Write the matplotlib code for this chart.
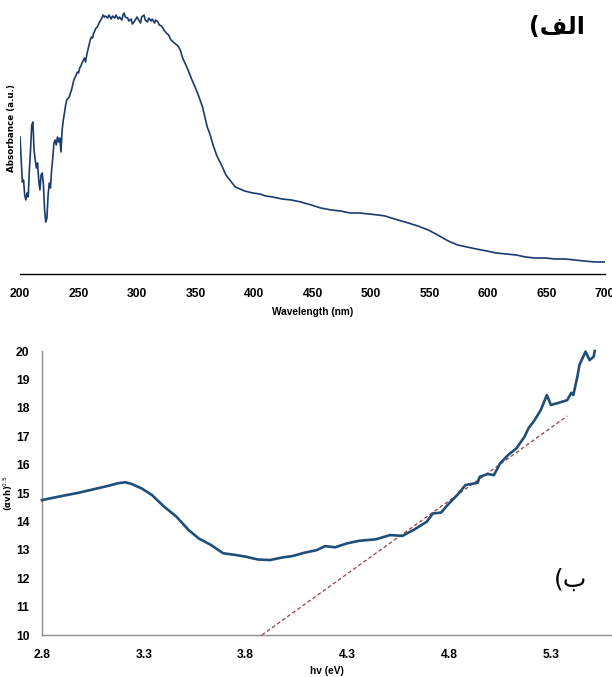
import matplotlib
matplotlib.use("Agg")
import matplotlib.pyplot as plt

# absorbance spectrum (top panel)
wavelength = [200, 201, 202, 203, 204, 205, 206, 207, 208, 209,
              210, 211, 212, 213, 214, 215, 216, 217, 218, 219,
              220, 221, 222, 223, 224, 225, 226, 227, 228, 229,
              230, 231, 232, 233, 234, 235, 236, 237, 238, 239,
              240, 242, 244, 246, 248, 249, 250, 251, 252, 253,
              255, 256, 257, 259, 260, 261, 262, 263, 265, 266,
              268, 270, 271, 272, 273, 275, 276, 278, 279, 281,
              282, 284, 285, 287, 288, 289, 290, 292, 293, 295,
              296, 298, 300, 301, 303, 304, 306, 307, 309, 310,
              312, 313, 315, 316, 318, 319, 321, 323, 325, 327,
              329, 331, 333, 335, 337, 339, 341, 344, 347, 350,
              353, 356, 358, 360, 362, 365, 368, 370, 373, 376,
              380, 384, 388, 392, 399, 405, 410, 416, 424, 432,
              440, 449, 457, 466, 474, 482, 490, 498, 506, 512,
              520, 532, 540, 549, 557, 566, 574, 582, 590, 599,
              607, 616, 624, 632, 640, 649, 657, 666, 674, 682,
              691, 700]
absorbance = [1.37, 1.14, 0.92, 0.94, 0.79, 0.74, 0.81, 0.77, 1.04, 1.24,
              1.49, 1.52, 1.24, 1.14, 1.06, 1.11, 0.94, 0.84, 0.99, 1.01,
              0.89, 0.64, 0.52, 0.56, 0.79, 0.91, 0.86, 1.04, 1.16, 1.31,
              1.34, 1.29, 1.37, 1.32, 1.36, 1.22, 1.44, 1.54, 1.61, 1.69,
              1.74, 1.77, 1.84, 1.94, 1.99, 2.02, 2.01, 2.06, 2.08, 2.11,
              2.16, 2.12, 2.19, 2.29, 2.34, 2.37, 2.36, 2.41, 2.46, 2.47,
              2.52, 2.56, 2.59, 2.57, 2.58, 2.56, 2.59, 2.55, 2.58, 2.56,
              2.59, 2.55, 2.57, 2.54, 2.59, 2.61, 2.57, 2.56, 2.53, 2.55,
              2.50, 2.53, 2.57, 2.55, 2.51, 2.57, 2.59, 2.54, 2.52, 2.56,
              2.53, 2.55, 2.51, 2.54, 2.52, 2.49, 2.48, 2.44, 2.41, 2.39,
              2.34, 2.32, 2.30, 2.28, 2.24, 2.16, 2.11, 2.03, 1.94, 1.86,
              1.77, 1.67, 1.57, 1.47, 1.41, 1.29, 1.19, 1.14, 1.07, 0.99,
              0.93, 0.87, 0.85, 0.83, 0.81, 0.80, 0.78, 0.77, 0.75, 0.74,
              0.72, 0.69, 0.66, 0.64, 0.63, 0.61, 0.61, 0.60, 0.59, 0.58,
              0.55, 0.51, 0.48, 0.44, 0.39, 0.33, 0.29, 0.27, 0.25, 0.23,
              0.21, 0.20, 0.19, 0.17, 0.16, 0.16, 0.15, 0.15, 0.14, 0.13,
              0.12, 0.12]
wl_ticks = [200, 250, 300, 350, 400, 450, 500, 550, 600, 650, 700]

# Tauc plot (bottom panel)
hv = [2.80, 2.88, 2.98, 3.07, 3.13, 3.17, 3.21, 3.24, 3.29, 3.34,
      3.40, 3.46, 3.52, 3.57, 3.63, 3.69, 3.75, 3.80, 3.86, 3.92,
      3.98, 4.03, 4.09, 4.15, 4.19, 4.24, 4.30, 4.36, 4.44, 4.51,
      4.57, 4.63, 4.69, 4.72, 4.76, 4.80, 4.84, 4.88, 4.94, 4.95,
      4.99, 5.02, 5.05, 5.09, 5.13, 5.17, 5.19, 5.22, 5.25, 5.28,
      5.30, 5.34, 5.38, 5.40, 5.41, 5.43, 5.44, 5.47, 5.49, 5.51,
      5.515]
tauc = [14.75, 14.87, 15.01, 15.16, 15.26, 15.34, 15.38, 15.32, 15.16, 14.93,
        14.52, 14.17, 13.70, 13.40, 13.17, 12.88, 12.82, 12.76, 12.66, 12.64,
        12.73, 12.78, 12.90, 12.99, 13.13, 13.09, 13.23, 13.32, 13.37, 13.52,
        13.49, 13.72, 13.99, 14.28, 14.31, 14.64, 14.93, 15.28, 15.36, 15.57,
        15.67, 15.63, 16.04, 16.34, 16.57, 16.98, 17.28, 17.57, 17.92, 18.45,
        18.10, 18.18, 18.27, 18.53, 18.45, 19.10, 19.51, 19.98, 19.68, 19.80,
        20.00]
# linear extrapolation to the band gap
fit_hv = [3.88, 5.38]
fit_val = [10.0, 17.71]
hv_ticks = [2.8, 3.3, 3.8, 4.3, 4.8, 5.3]
tauc_ticks = list(range(10, 21))

sans = ['Liberation Sans', 'DejaVu Sans']
tick_font = dict(family=sans, weight='bold', size=8.7)
label_font = dict(family=sans, weight='bold', size=7.3)

fig = plt.figure(figsize=(6.12, 6.77), dpi=100)

# top panel
ax1 = fig.add_axes([0.0327, 0.5953, 0.9559, 0.3899])
ax1.plot(wavelength, absorbance, color='#1b3a6e', lw=1.2)
ax1.set_xlim(200, 700)
ax1.set_ylim(0, 2.64)
ax1.set_xticks(wl_ticks)
ax1.set_xticklabels([str(t) for t in wl_ticks], fontdict=tick_font)
ax1.set_yticks([])
for s in ['top', 'right', 'left']:
    ax1.spines[s].set_visible(False)
ax1.spines['bottom'].set_color('black')
ax1.spines['bottom'].set_linewidth(1.0)
ax1.tick_params(axis='x', length=0, pad=10)
ax1.set_xlabel('Wavelength (nm)', fontdict=label_font, labelpad=5)
fig.text(0.019, 1 - 128 / 677, 'Absorbance (a.u.)', rotation=90,
         ha='center', va='center', family=['DejaVu Sans'], weight='bold', size=6.3)
fig.text(585 / 612, 1 - 27 / 677, '(\ufed2\ufedf\ufe8d', ha='right', va='center',
         family=['DejaVu Sans'], weight='bold', size=17)

# bottom panel
ax2 = fig.add_axes([0.0686, 0.062, 0.9314, 0.4195])
ax2.plot(hv, tauc, color='#1f4e79', lw=1.9, clip_on=False, zorder=3)
ax2.plot(fit_hv, fit_val, color='#9e3b3b', lw=0.9, ls=(0, (3, 2)), zorder=2)
ax2.set_xlim(2.8, 5.6)
ax2.set_ylim(10, 20)
ax2.set_xticks(hv_ticks)
ax2.set_xticklabels([f'{t:.1f}' for t in hv_ticks], fontdict=tick_font)
ax2.set_yticks(tauc_ticks)
ax2.set_yticklabels([str(t) for t in tauc_ticks], fontdict=tick_font)
for s in ['top', 'right']:
    ax2.spines[s].set_visible(False)
for s in ['left', 'bottom']:
    ax2.spines[s].set_color('#8c8c8c')
    ax2.spines[s].set_linewidth(1.0)
ax2.tick_params(axis='y', length=0, pad=9)
ax2.tick_params(axis='x', length=0, pad=10)
ax2.set_xlabel('hv (eV)', fontdict=label_font, labelpad=4)
fig.text(0.014, 1 - 493 / 677, r'(αvh)$^{0.5}$', rotation=90,
         ha='center', va='center', family=['DejaVu Sans'], weight='bold', size=6)
fig.text(587 / 612, 1 - 580 / 677, '(\ufe8f', ha='right', va='center',
         family=['DejaVu Sans'], size=18)

fig.savefig('out.png', dpi=100)
